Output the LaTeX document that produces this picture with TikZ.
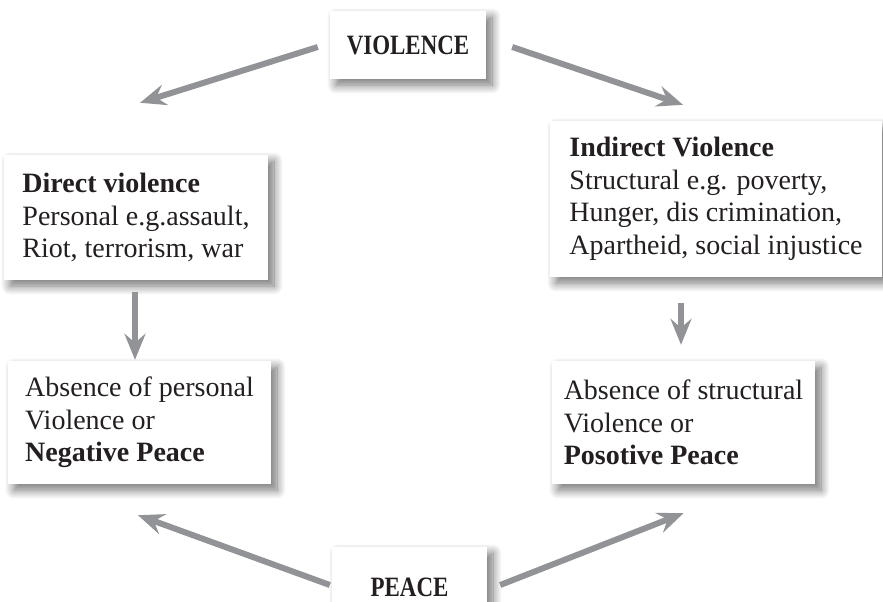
\documentclass[tikz,border=0pt]{standalone}
\usepackage{fontspec}
\setmainfont{Liberation Serif}
\newfontfamily\capfont[FakeStretch=0.82]{Liberation Serif}
\usetikzlibrary{arrows.meta,shadows.blur}
\definecolor{arrowgray}{RGB}{146,147,151}
\definecolor{inkgray}{RGB}{35,31,32}

\begin{document}
\begin{tikzpicture}[x=1pt,y=-1pt,>={Stealth[length=26pt,width=21pt,inset=9pt]}]
  \tikzstyle{box}=[fill=white,text=inkgray,align=left,inner sep=0pt,font=\fontsize{28}{32.5}\selectfont,blur shadow={shadow xshift=6pt,shadow yshift=-6pt,shadow blur radius=9pt,shadow blur steps=12,shadow opacity=55}]
  \tikzstyle{link}=[->,draw=arrowgray,line width=6pt]
  \useasboundingbox (0,0) rectangle (883,602);

  \node[box,minimum width=156pt,minimum height=68pt] (V) at (408,45) {\capfont\bfseries VIOLENCE};
  \node[box,minimum width=264pt,minimum height=125pt] (D) at (136,217.5)
    {\textbf{Direct violence}\\Personal e.g.assault,\\Riot, terrorism, war};
  \node[box,minimum width=332pt,minimum height=156pt] (I) at (716,199)
    {\textbf{Indirect Violence}\\Structural e.g. poverty,\\Hunger, dis crimination,\\Apartheid, social injustice};
  \node[box,minimum width=263pt,minimum height=123pt] (N) at (139.5,422.5)
    {Absence of personal\\Violence or\\\textbf{Negative Peace}};
  \node[box,minimum width=263pt,minimum height=123pt] (S) at (683.5,422.5)
    {Absence of structural\\Violence or\\\textbf{Posotive Peace}};
  \node[box,minimum width=155pt,minimum height=80pt] (P) at (409.5,587) {\capfont\bfseries PEACE};

  \draw[link] ([xshift=-12pt,yshift=-2pt]V.west) -- ([xshift=4pt,yshift=52pt]D.north);
  \draw[link] ([xshift=26pt,yshift=-2pt]V.east) -- ([xshift=-33pt,yshift=16pt]I.north);
  \draw[link] ([xshift=-1pt,yshift=-12pt]D.south) -- ([xshift=-4.5pt,yshift=1pt]N.north);
  \draw[link] ([xshift=-35pt,yshift=-26pt]I.south) -- ([xshift=-2.5pt,yshift=16pt]S.north);
  \draw[link] ([xshift=-2pt,yshift=2pt]P.west) -- ([xshift=-1.5pt,yshift=-31pt]N.south);
  \draw[link] ([xshift=13pt,yshift=2pt]P.east) -- ([yshift=-29pt]S.south);
\end{tikzpicture}
\end{document}
